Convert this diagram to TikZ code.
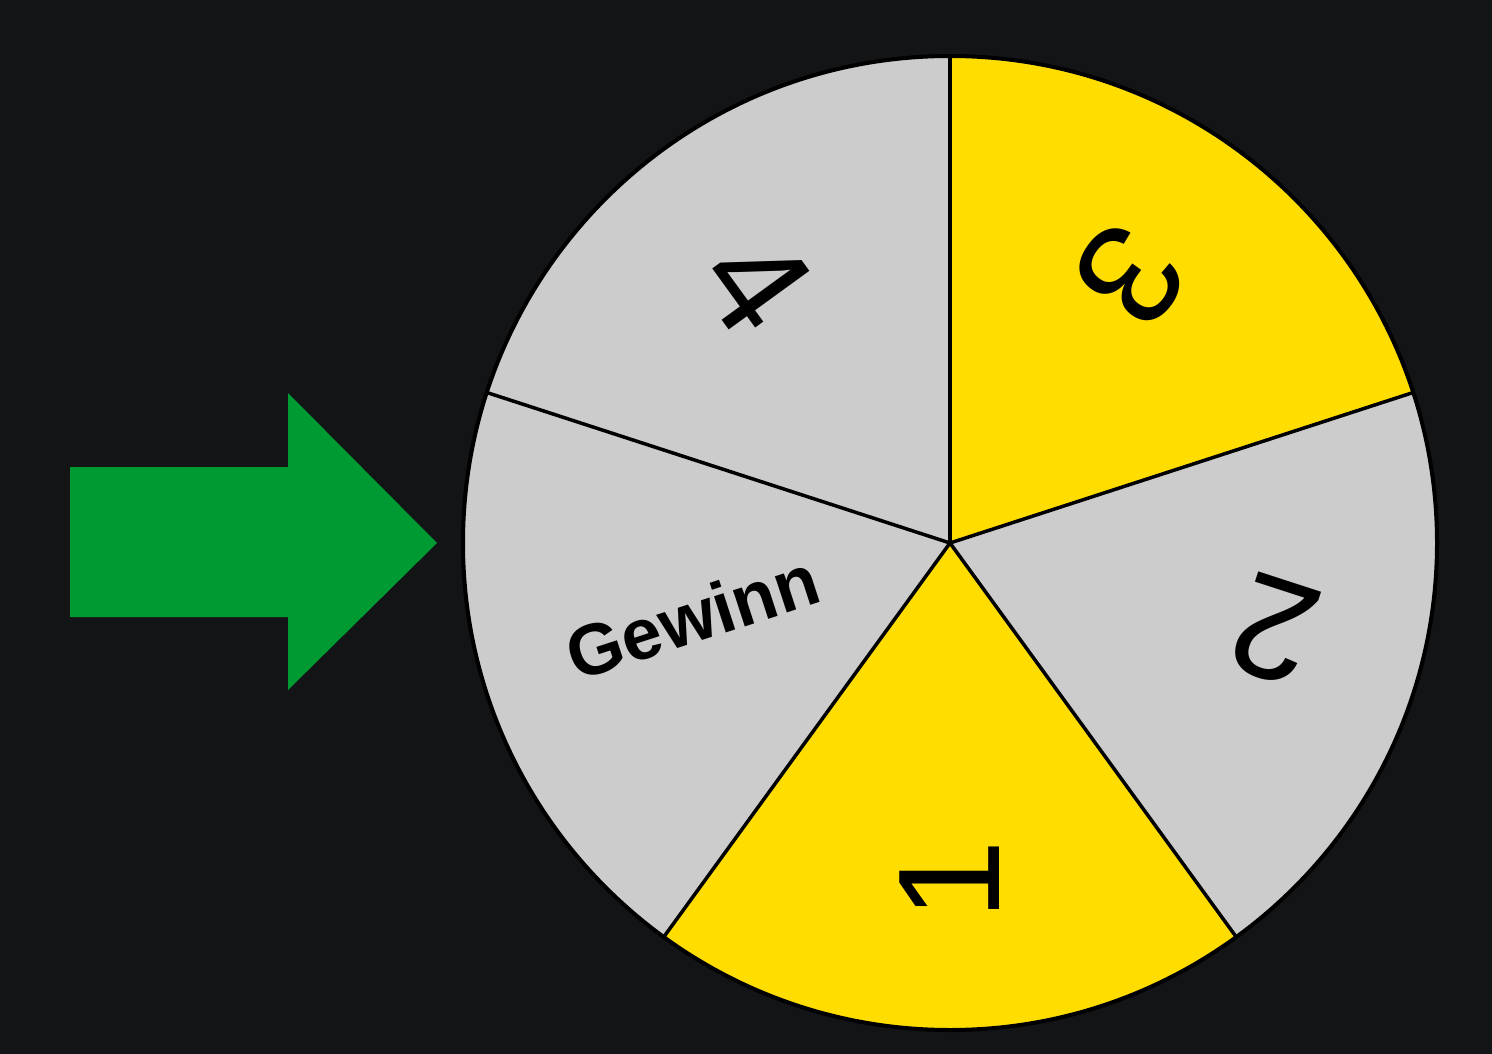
\documentclass[tikz,border=0pt]{standalone}
\usepackage{fontspec}
\setmainfont{Liberation Sans}
\usetikzlibrary{calc}
\begin{document}
\begin{tikzpicture}[x=1pt,y=-1pt,
  lbl/.style={font=\fontsize{145}{145}\selectfont,text=black}]
\definecolor{bg}{HTML}{131416}
\definecolor{gr}{HTML}{CCCCCC}
\definecolor{ye}{HTML}{FFDD00}
\definecolor{ar}{HTML}{009A33}
\fill[bg] (0,0) rectangle (1492,1054);
\useasboundingbox (0,0) rectangle (1492,1054);
\coordinate (c) at (950,543);
\def\R{487}
\foreach \a/\b/\col in {90/18/ye,18/-54/gr,-54/-126/ye,-126/-198/gr,162/90/gr}{
  \fill[\col] (c) -- ++(-\a:\R) arc[start angle=-\a,end angle=-\b,radius=\R] -- cycle;
}
\foreach \a in {90,18,-54,-126,162}{\draw[line width=3.5pt] (c) -- ++(-\a:\R);}
\draw[line width=4pt] (c) circle[radius=\R];
\node[lbl,rotate=234] (n3) at ($(c)+(-56:323)$) {3};
\node[lbl,rotate=162] (n2) at ($(c)+(15:336)$) {2};
\node[lbl,rotate=90] (n1) at ($(c)+(90:337)$) {1};
\node[lbl,rotate=306] (n4) at ($(c)+(-126.6:324)$) {4};
\node[font=\bfseries\fontsize{72}{72}\selectfont,rotate=18,inner sep=0pt] (g) at ($(c)+(164:268)$) {Gewinn};
\fill[ar] (70,467) -- (288,467) -- (288,393) -- (437,543) -- (288,690) -- (288,617) -- (70,617) -- cycle;
\end{tikzpicture}
\end{document}
